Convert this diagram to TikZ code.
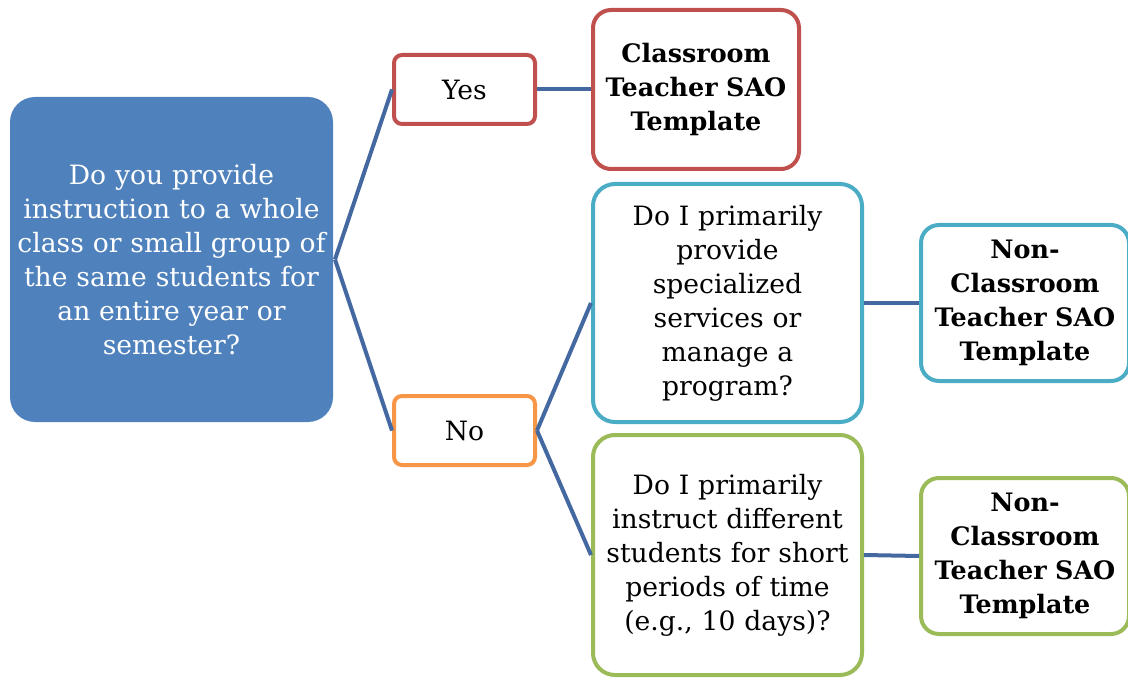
\documentclass[tikz,border=0pt]{standalone}
\usepackage{fontspec}
\setmainfont{DejaVu Serif}
\begin{document}
\begin{tikzpicture}[x=1pt,y=-1pt,
  box/.style={rounded corners=#1, line width=4pt, align=center, inner sep=0pt, font=\fontsize{26.6}{34}\selectfont},
  conn/.style={draw=connblue, line width=4pt},
  title/.style={font=\fontsize{25.4}{34}\selectfont\bfseries}]
\definecolor{mainblue}{HTML}{4F81BD}
\definecolor{connblue}{HTML}{4469A0}
\definecolor{redc}{HTML}{C0504D}
\definecolor{orangec}{HTML}{F79646}
\definecolor{cyanc}{HTML}{4BACC6}
\definecolor{greenc}{HTML}{9BBB59}
\useasboundingbox (0,0) rectangle (1128,679);
\node[box=25pt, fill=mainblue, text=white, minimum width=323pt, minimum height=325pt, text width=318pt] (main) at (171.5,259.5)
  {Do you provide\\instruction to a whole\\class or small group of\\the same students for\\an entire year or\\semester?};
\node[box=8pt, draw=redc, fill=white, minimum width=141pt, minimum height=69pt] (yes) at (464.5,89.5) {Yes};
\node[box=8pt, draw=orangec, fill=white, minimum width=141pt, minimum height=69pt] (no) at (464.5,430.5) {No};
\node[box=18pt, draw=redc, fill=white, minimum width=206pt, minimum height=159pt, text width=204pt, title] (ct) at (696,89.5)
  {Classroom\\Teacher SAO\\Template};
\node[box=22pt, draw=cyanc, fill=white, minimum width=269pt, minimum height=238pt, text width=265pt] (q2) at (727.5,303)
  {Do I primarily\\provide\\specialized\\services or\\manage a\\program?};
\node[box=22pt, draw=greenc, fill=white, minimum width=269pt, minimum height=240pt, text width=265pt] (q3) at (727.5,555)
  {Do I primarily\\instruct different\\students for short\\periods of time\\(e.g., 10 days)?};
\node[box=18pt, draw=cyanc, fill=white, minimum width=208pt, minimum height=156pt, text width=204pt, title] (nc1) at (1025,303)
  {Non-\\Classroom\\Teacher SAO\\Template};
\node[box=18pt, draw=greenc, fill=white, minimum width=208pt, minimum height=156pt, text width=204pt, title] (nc2) at (1025,556)
  {Non-\\Classroom\\Teacher SAO\\Template};
\draw[conn] (main.east) -- (yes.west);
\draw[conn] (main.east) -- (no.west);
\draw[conn] (yes.east) -- (ct.west);
\draw[conn] (no.east) -- (q2.west);
\draw[conn] (no.east) -- (q3.west);
\draw[conn] (q2.east) -- (nc1.west);
\draw[conn] (q3.east) -- (nc2.west);
\end{tikzpicture}
\end{document}
